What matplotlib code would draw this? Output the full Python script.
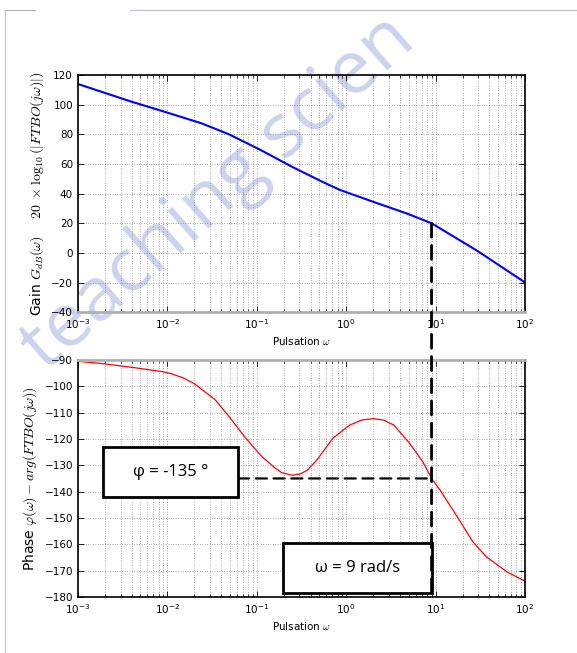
import numpy as np
import matplotlib
matplotlib.use("Agg")
import matplotlib.pyplot as plt
from matplotlib.patches import ConnectionPatch, Rectangle

plt.rcParams['mathtext.fontset'] = 'cm'
plt.rcParams['xtick.direction'] = 'in'
plt.rcParams['ytick.direction'] = 'in'
plt.rcParams['xtick.top'] = True
plt.rcParams['ytick.right'] = True

# gain curve (rad/s, dB)
w_gain = [1e-3, 2e-3, 4e-3, 8.5e-3, 2.4e-2, 4.9e-2, 0.11, 0.25, 0.54, 0.85,
          2.0, 4.8, 9.0, 29.0, 100.0]
gain_db = [114, 108, 102, 96, 87.5, 80, 69.5, 58, 48, 42.5,
           34.5, 26.5, 20, 1.5, -20]

# phase curve (rad/s, deg)
w_phase = [1e-3, 2e-3, 4e-3, 8.7e-3, 1.1e-2, 1.5e-2, 2e-2, 3.4e-2, 4.9e-2, 7.4e-2, 0.114,
           0.16, 0.19, 0.25, 0.31, 0.37, 0.47, 0.71, 1.1, 1.5, 2.0, 2.6, 3.4,
           5.1, 7.2, 9.0, 11.2, 17.4, 26.0, 37.0, 63.0, 100.0]
phase_deg = [-90.5, -91.5, -92.8, -94.4, -95.2, -96.8, -99, -105, -111.5, -119.4, -126.7,
             -131.0, -132.8, -133.8, -133.2, -131.8, -128, -119.7, -114.7, -112.8, -112.3, -112.8, -114.7,
             -121.6, -128.7, -135, -139.4, -149.5, -159, -164.8, -170.5, -174]

w_c = 9.0        # crossing pulsation
phi_c = -135.0   # phase at w_c
gain_c = 20.0

gain_ticks = [-40, -20, 0, 20, 40, 60, 80, 100, 120]
phase_ticks = [-180, -170, -160, -150, -140, -130, -120, -110, -100, -90]

fig = plt.figure(figsize=(5.77, 6.53), dpi=100)

# watermark + slide frame
fig.text(0.08, 0.43, "teaching scien", fontsize=54, family="Open Sans",
         color="#cdd2ee", rotation=41.5, rotation_mode="anchor",
         ha="left", va="baseline", zorder=-1)
fig.add_artist(plt.Line2D([0.009, 0.06], [0.985, 0.985], color="#b0b0b0", lw=0.8))
fig.add_artist(plt.Line2D([0.225, 1.0], [0.985, 0.985], color="#b8bcd8", lw=0.8))
fig.add_artist(plt.Line2D([0.009, 0.009], [0.0, 0.985], color="#c8c8c8", lw=0.8))

ax1 = fig.add_axes([0.135, 0.522, 0.775, 0.363])
ax2 = fig.add_axes([0.135, 0.0858, 0.775, 0.363])

for ax in (ax1, ax2):
    ax.set_facecolor("none")
    ax.set_xscale("log")
    ax.set_xlim(1e-3, 1e2)
    ax.grid(True, which="both", axis="x", color="0.4", linestyle=(0, (1, 2.5)), linewidth=0.5)
    ax.grid(True, which="major", axis="y", color="0.4", linestyle=(0, (1, 2.5)), linewidth=0.5)
    ax.tick_params(labelsize=7.5, length=4, width=0.6)
    ax.tick_params(which="minor", length=2, width=0.5)
    ax.set_xlabel(r"Pulsation $\omega$", fontsize=7.5, labelpad=3)
    for s in ax.spines.values():
        s.set_linewidth(1.2)

ax1.spines["bottom"].set_color("#b0b0b0")
ax1.spines["bottom"].set_linewidth(2)
ax2.spines["top"].set_color("#b0b0b0")
ax2.spines["top"].set_linewidth(2)

ax1.plot(w_gain, gain_db, color="blue", linewidth=1.5)
ax1.set_ylim(-40, 120)
ax1.set_yticks(gain_ticks)
ax1.set_ylabel(r"Gain $G_{dB}(\omega)$    $20\ \times\log_{10}(|FTBO(j\omega)|)$",
               fontsize=10, labelpad=4)

ax2.plot(w_phase, phase_deg, color="red", linewidth=0.9)
ax2.set_ylim(-180, -90)
ax2.set_yticks(phase_ticks)
ax2.set_ylabel(r"Phase $\varphi(\omega) - arg(FTBO(j\omega))$", fontsize=10, labelpad=4)

# vertical dashed line from the gain curve down to the phase axis bottom
con = ConnectionPatch(xyA=(w_c, gain_c), coordsA=ax1.transData,
                      xyB=(w_c, -180), coordsB=ax2.transData,
                      color="k", linestyle=(0, (5, 3)), linewidth=2)
fig.add_artist(con)

# annotation boxes (axes fraction)
box_phi = (0.056, 0.422, 0.302, 0.211)
box_w = (0.459, 0.017, 0.333, 0.211)

hline = ConnectionPatch(xyA=(box_phi[0] + box_phi[2], 0.5), coordsA=ax2.transAxes,
                        xyB=(w_c, phi_c), coordsB=ax2.transData,
                        color="k", linestyle=(0, (5, 3)), linewidth=1.6)
ax2.add_artist(hline)

for (x0, y0, bw, bh), label in [(box_phi, "φ = -135 °"), (box_w, "ω = 9 rad/s")]:
    ax2.add_patch(Rectangle((x0, y0), bw, bh, transform=ax2.transAxes,
                            facecolor="white", edgecolor="k", linewidth=2, zorder=5))
    ax2.text(x0 + bw / 2, y0 + bh / 2, label, transform=ax2.transAxes,
             ha="center", va="center", fontsize=12, family="Open Sans", zorder=6)

fig.savefig("out.png", dpi=100)
